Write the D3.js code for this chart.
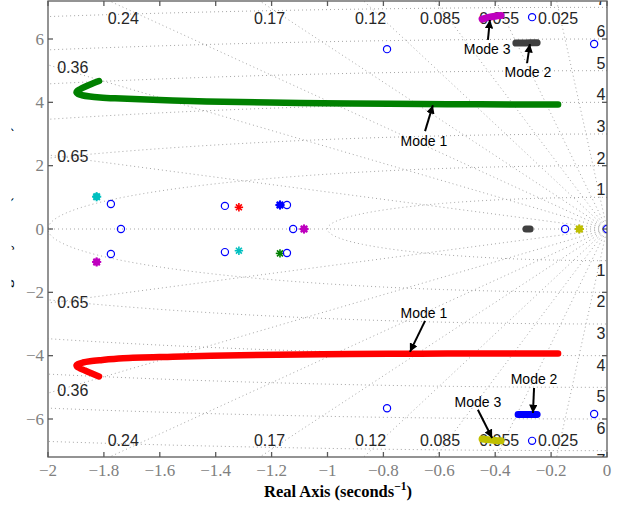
<!DOCTYPE html>
<html>
<head>
<meta charset="utf-8">
<script src="https://cdn.jsdelivr.net/npm/d3@7"></script>
<style>
  body { margin: 0; background: #fff; }
  svg { display: block; }
</style>
</head>
<body>
<svg id="chart" width="627" height="506"></svg>
<script>
// ---- axis ticks ----
const xTicks = [-2, -1.8, -1.6, -1.4, -1.2, -1, -0.8, -0.6, -0.4, -0.2, 0];
const yTicks = [-6, -4, -2, 0, 2, 4, 6];

// ---- s-plane grid ----
const dampingRatios = [0.025, 0.055, 0.085, 0.12, 0.17, 0.24, 0.36, 0.65];
const dampingLabels = ["0.025", "0.055", "0.085", "0.12", "0.17", "0.24", "0.36", "0.65"];
const naturalFreqs = [1, 2, 3, 4, 5, 6, 7];

// ---- root-locus branches [real, imag] ----
const mode1Upper = [[-1.8175, 4.673], [-1.8426, 4.585], [-1.8676, 4.490], [-1.8855, 4.411], [-1.8962, 4.348],
  [-1.898, 4.307], [-1.8927, 4.263], [-1.8784, 4.225], [-1.8497, 4.184], [-1.814, 4.155], [-1.760, 4.127],
  [-1.671, 4.095], [-1.492, 4.042], [-1.313, 4.010], [-1.098, 3.979], [-0.920, 3.963], [-0.669, 3.947],
  [-0.454, 3.938], [-0.175, 3.931]];
const mode1Lower = [[-1.8175, -4.656], [-1.8426, -4.566], [-1.8676, -4.471], [-1.8855, -4.398], [-1.8962, -4.342],
  [-1.898, -4.304], [-1.8927, -4.263], [-1.8748, -4.215], [-1.8497, -4.177], [-1.814, -4.143], [-1.7317, -4.083],
  [-1.5528, -4.035], [-1.313, -3.988], [-1.098, -3.963], [-0.920, -3.947], [-0.669, -3.938],
  [-0.454, -3.931], [-0.175, -3.931]];
const mode2Upper = [[-0.326, 5.87], [-0.300, 5.875], [-0.275, 5.88], [-0.250, 5.88]];
const mode2Lower = [[-0.318, -5.86], [-0.295, -5.86], [-0.272, -5.855], [-0.250, -5.855]];
const mode3Upper = [[-0.447, 6.63], [-0.425, 6.68], [-0.400, 6.72], [-0.379, 6.74]];
const mode3Lower = [[-0.447, -6.63], [-0.420, -6.66], [-0.400, -6.68], [-0.379, -6.69]];
const realAxisBranch = [[-0.290, 0], [-0.275, 0]];

// ---- zeros (open circles) ----
const zeros = [[-1.775, 0.79], [-1.775, -0.79], [-1.739, 0], [-1.367, 0.73], [-1.367, -0.73],
  [-1.145, 0.76], [-1.145, -0.76], [-1.123, 0], [-0.787, 5.68], [-0.787, -5.66],
  [-0.268, 6.69], [-0.268, -6.69], [-0.046, 5.84], [-0.046, -5.84], [-0.150, 0], [0, 0]];

// ---- open-loop poles ----
const polesHeavy = [[-1.826, 1.02], [-1.826, -1.04], [-1.170, 0.758], [-1.084, 0], [-0.099, 0]];
const polesHeavyColor = ["#00bfbf", "#bf00bf", "#0000ff", "#bf00bf", "#bfbf00"];
const polesLight = [[-1.317, 0.685], [-1.317, -0.685], [-1.170, -0.77]];
const polesLightColor = ["#ff0000", "#00bfbf", "#008000"];

// ---- callouts: label, text anchor, arrow tail, arrow tip (data units) ----
const callouts = [
  { label: "Mode 1", text: [-0.655, 2.78], tail: [-0.651, 3.09], tip: [-0.623, 3.91] },
  { label: "Mode 3", text: [-0.429, 5.68], tail: [-0.426, 5.97], tip: [-0.419, 6.60] },
  { label: "Mode 2", text: [-0.283, 4.95], tail: [-0.286, 5.24], tip: [-0.276, 5.84] },
  { label: "Mode 1", text: [-0.655, -2.65], tail: [-0.651, -2.90], tip: [-0.705, -3.88] },
  { label: "Mode 2", text: [-0.261, -4.73], tail: [-0.261, -5.02], tip: [-0.265, -5.81] },
  { label: "Mode 3", text: [-0.462, -5.46], tail: [-0.462, -5.71], tip: [-0.411, -6.60] }
];

const svg = d3.select("#chart");
const plot = { left: 48, right: 607, top: 1, bottom: 457 };
const x = d3.scaleLinear().domain([-2, 0]).range([plot.left, plot.right]);
const y = d3.scaleLinear().domain([-7.2, 7.2]).range([plot.bottom, plot.top]);

const defs = svg.append("defs");
defs.append("clipPath").attr("id", "plotClip").append("rect")
  .attr("x", plot.left).attr("y", plot.top)
  .attr("width", plot.right - plot.left).attr("height", plot.bottom - plot.top);
defs.append("clipPath").attr("id", "ylabClip").append("rect")
  .attr("x", 11.5).attr("y", 0).attr("width", 10).attr("height", 506);
defs.append("marker").attr("id", "arrowHead")
  .attr("viewBox", "0 0 10 10").attr("refX", 10).attr("refY", 5)
  .attr("markerWidth", 4.2).attr("markerHeight", 4.2).attr("markerUnits", "strokeWidth")
  .attr("orient", "auto")
  .append("path").attr("d", "M0,0 L10,5 L0,10 Z").attr("fill", "#000");

const fmt = v => (v < 0 ? "\u2212" : "") + String(Math.abs(v));

// ---- grid ----
const grid = svg.append("g").attr("clip-path", "url(#plotClip)");
const gridStyle = sel => sel.attr("fill", "none").attr("stroke", "#a6a6a6")
  .attr("stroke-width", 1).attr("stroke-dasharray", "1 3");

// constant-damping rays
dampingRatios.forEach(z => {
  const s = Math.sqrt(1 - z * z);
  [1, -1].forEach(sg => {
    grid.append("line")
      .attr("x1", x(0)).attr("y1", y(0))
      .attr("x2", x(-12 * z)).attr("y2", y(sg * 12 * s))
      .call(gridStyle);
  });
});
grid.append("line").attr("x1", x(0)).attr("y1", y(0)).attr("x2", x(-2)).attr("y2", y(0)).call(gridStyle);

// constant natural-frequency arcs
naturalFreqs.forEach(w => {
  const pts = d3.range(0, 181).map(i => {
    const a = Math.PI / 2 + i * Math.PI / 180;
    return [w * Math.cos(a), w * Math.sin(a)];
  });
  grid.append("path")
    .attr("d", d3.line().x(d => x(d[0])).y(d => y(d[1]))(pts))
    .call(gridStyle);
});

// grid labels
const gridText = svg.append("g").attr("clip-path", "url(#plotClip)")
  .attr("font-family", "'Liberation Sans', Arial, Helvetica, sans-serif")
  .attr("font-size", 16).attr("fill", "#262626");
dampingRatios.forEach((z, i) => {
  const k = Math.sqrt(1 - z * z) / z;
  if (k * 2 > 7.2) {
    const xl = -7.0 / k;
    [6.66, -6.66].forEach(yy => {
      gridText.append("text").attr("x", x(xl)).attr("y", y(yy))
        .attr("text-anchor", "middle").attr("dy", "0.36em").text(dampingLabels[i]);
    });
  } else {
    const xe = -1.967;
    [1, -1].forEach(sg => {
      gridText.append("text").attr("x", x(xe)).attr("y", y(sg * (-xe) * k))
        .attr("text-anchor", "start").attr("dy", "0.36em").text(dampingLabels[i]);
    });
  }
});
naturalFreqs.forEach(w => {
  gridText.append("text").attr("x", 601).attr("y", y(w) - 2)
    .attr("text-anchor", "middle").text(w);
  gridText.append("text").attr("x", 601).attr("y", y(-w) + 15)
    .attr("text-anchor", "middle").text(w);
});

// ---- data layer ----
const data = svg.append("g").attr("clip-path", "url(#plotClip)");
const branchLine = d3.line().x(d => x(d[0])).y(d => y(d[1])).curve(d3.curveCatmullRom.alpha(0.5));
const branches = [
  [mode1Upper, "#008000", 6.5], [mode1Lower, "#ff0000", 6.5],
  [mode2Upper, "#404040", 7], [mode2Lower, "#0000ff", 7],
  [mode3Upper, "#bf00bf", 7], [mode3Lower, "#bfbf00", 7],
  [realAxisBranch, "#404040", 7]
];
branches.forEach(([pts, col, w]) => {
  data.append("path").attr("d", branchLine(pts))
    .attr("fill", "none").attr("stroke", col).attr("stroke-width", w)
    .attr("stroke-linecap", "round").attr("stroke-linejoin", "round");
});

function asterisk(g, px, py, r, col, sw, fillR) {
  if (fillR > 0) g.append("circle").attr("cx", px).attr("cy", py).attr("r", fillR).attr("fill", col);
  [0, 45, 90, 135].forEach(deg => {
    const a = deg * Math.PI / 180;
    g.append("line")
      .attr("x1", px - r * Math.cos(a)).attr("y1", py - r * Math.sin(a))
      .attr("x2", px + r * Math.cos(a)).attr("y2", py + r * Math.sin(a))
      .attr("stroke", col).attr("stroke-width", sw);
  });
}
polesHeavy.forEach((p, i) => asterisk(data, x(p[0]), y(p[1]), 4.6, polesHeavyColor[i], 2, 3.6));
polesLight.forEach((p, i) => asterisk(data, x(p[0]), y(p[1]), 4.2, polesLightColor[i], 1.6, 1.8));

data.selectAll("circle.zero").data(zeros).join("circle").attr("class", "zero")
  .attr("cx", d => x(d[0])).attr("cy", d => y(d[1])).attr("r", 3.6)
  .attr("fill", "none").attr("stroke", "#0000ff").attr("stroke-width", 1.2);

// ---- callouts ----
const ann = svg.append("g");
callouts.forEach(c => {
  ann.append("line")
    .attr("x1", x(c.tail[0])).attr("y1", y(c.tail[1]))
    .attr("x2", x(c.tip[0])).attr("y2", y(c.tip[1]))
    .attr("stroke", "#000").attr("stroke-width", 2).attr("marker-end", "url(#arrowHead)");
  ann.append("text").attr("x", x(c.text[0])).attr("y", y(c.text[1]))
    .attr("dy", "0.36em").attr("text-anchor", "middle")
    .attr("font-family", "'Liberation Sans', Arial, Helvetica, sans-serif")
    .attr("font-size", 14).attr("fill", "#000").text(c.label);
});

// ---- axes box ----
const axisCol = "#5a5a5a";
const tickLen = 5;
const ax = svg.append("g").attr("stroke", axisCol).attr("stroke-width", 1.3);
ax.append("rect").attr("x", plot.left).attr("y", plot.top)
  .attr("width", plot.right - plot.left).attr("height", plot.bottom - plot.top)
  .attr("fill", "none");
xTicks.forEach(t => {
  ax.append("line").attr("x1", x(t)).attr("x2", x(t)).attr("y1", plot.bottom).attr("y2", plot.bottom - tickLen);
  ax.append("line").attr("x1", x(t)).attr("x2", x(t)).attr("y1", plot.top).attr("y2", plot.top + tickLen);
});
yTicks.forEach(t => {
  ax.append("line").attr("x1", plot.left).attr("x2", plot.left + tickLen).attr("y1", y(t)).attr("y2", y(t));
  ax.append("line").attr("x1", plot.right).attr("x2", plot.right - tickLen).attr("y1", y(t)).attr("y2", y(t));
});

const tickText = svg.append("g")
  .attr("font-family", "'Liberation Serif', 'Times New Roman', Times, serif")
  .attr("font-size", 17).attr("fill", "#808080");
xTicks.forEach(t => {
  tickText.append("text").attr("x", x(t)).attr("y", 476).attr("text-anchor", "middle").text(fmt(t));
});
yTicks.forEach(t => {
  tickText.append("text").attr("x", 44).attr("y", y(t)).attr("dy", "0.34em")
    .attr("text-anchor", "end").text(fmt(t));
});

// ---- axis titles ----
const titleFont = "'Liberation Serif', 'Times New Roman', Times, serif";
const xt = svg.append("text").attr("x", 338).attr("y", 497).attr("text-anchor", "middle")
  .attr("font-family", titleFont).attr("font-weight", "bold").attr("font-size", 16.5).attr("fill", "#000");
xt.append("tspan").text("Real Axis (seconds");
xt.append("tspan").attr("dy", -7).attr("font-size", 11.5).text("\u22121");
xt.append("tspan").attr("dy", 7).text(")");

const yt = svg.append("g").attr("clip-path", "url(#ylabClip)")
  .append("text").attr("transform", "translate(10,221) rotate(-90)").attr("text-anchor", "middle")
  .attr("font-family", titleFont).attr("font-weight", "bold").attr("font-size", 16.5).attr("fill", "#000");
yt.append("tspan").text("Imaginary Axis (seconds");
yt.append("tspan").attr("dy", -7).attr("font-size", 11.5).text("\u22121");
yt.append("tspan").attr("dy", 7).text(")");
</script>
</body>
</html>
